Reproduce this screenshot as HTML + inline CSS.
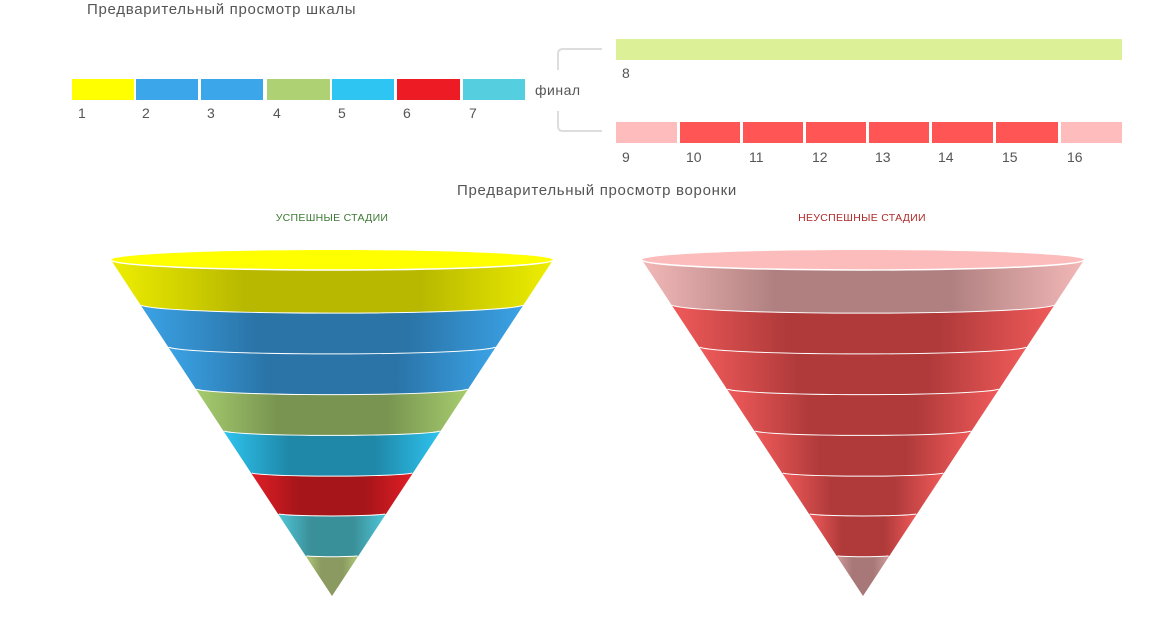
<!DOCTYPE html>
<html><head><meta charset="utf-8"><style>
html,body{margin:0;padding:0;background:#fff;width:1151px;height:636px;overflow:hidden}
svg{display:block;font-family:"Liberation Sans","DejaVu Sans",sans-serif}
</style></head><body>
<svg id="s" width="1151" height="636" viewBox="0 0 1151 636" xmlns="http://www.w3.org/2000/svg">
<defs id="d"></defs>
<text x="87" y="14" font-size="15" letter-spacing="0.7" fill="#555">Предварительный просмотр шкалы</text>
<g id="scale"></g>
<text x="535" y="95" font-size="14" letter-spacing="0.5" fill="#555">финал</text>
<path d="M602 49 H563 Q558 49 558 54 V70 M558 111 V126 Q558 131 563 131 H602" fill="none" stroke="#ddd" stroke-width="2"/>
<rect x="616" y="39" width="506" height="21" fill="#dcf197"/>
<text x="622" y="78" font-size="14" fill="#555">8</text>
<text x="597" y="195" font-size="15" letter-spacing="0.7" fill="#555" text-anchor="middle">Предварительный просмотр воронки</text>
<text x="332" y="221" font-size="10.5" letter-spacing="0.3" fill="#3d7a34" text-anchor="middle">УСПЕШНЫЕ СТАДИИ</text>
<text x="862" y="221" font-size="10.5" letter-spacing="0.3" fill="#b02a2a" text-anchor="middle">НЕУСПЕШНЫЕ СТАДИИ</text>
<g id="f"></g>
</svg>
<script>
var s="",defs="";
var top1=[[72,134,"#ffff00"],[136,198,"#3ba7ea"],[201,263,"#3ba7ea"],[267,330,"#aed273"],[332,394,"#2fc5f3"],[397,460,"#ed1c24"],[463,525,"#55cfe0"]];
top1.forEach(function(r,i){s+='<rect x="'+r[0]+'" y="79" width="'+(r[1]-r[0])+'" height="21" fill="'+r[2]+'"/><text x="'+(r[0]+6)+'" y="118" font-size="14" fill="#555">'+(i+1)+'</text>';});
var bot=[[616,677,"#ffbcbc"],[680,740,"#ff5555"],[743,803,"#ff5555"],[806,866,"#ff5555"],[869,929,"#ff5555"],[932,993,"#ff5555"],[996,1058,"#ff5555"],[1061,1122,"#ffbcbc"]];
bot.forEach(function(r,i){s+='<rect x="'+r[0]+'" y="122" width="'+(r[1]-r[0])+'" height="21" fill="'+r[2]+'"/><text x="'+(r[0]+6)+'" y="162" font-size="14" fill="#555">'+(i+9)+'</text>';});
document.getElementById("scale").innerHTML=s;
var ys=[260,305,347,389,431,473,514,556,596];
function funnel(cx,cols,cap,id){
 var out="",R=221,RY=10,apex=596;
 function w(y){return R*(apex-y)/(apex-260);}
 for(var i=0;i<8;i++){
  var y0=ys[i],y1=ys[i+1],w0=w(y0),w1=Math.max(w(y1),0.01),r0=RY*w0/R,r1=RY*w1/R;
  var g=id+i;
  defs+='<linearGradient id="'+g+'" x1="0" x2="1" y1="0" y2="0"><stop offset="0" stop-color="'+cols[i][0]+'"/><stop offset="0.3" stop-color="'+cols[i][1]+'"/><stop offset="0.7" stop-color="'+cols[i][1]+'"/><stop offset="1" stop-color="'+cols[i][0]+'"/></linearGradient>';
  var d="M"+(cx-w0)+" "+y0+" A"+w0+" "+r0+" 0 0 0 "+(cx+w0)+" "+y0+" L"+(cx+w1)+" "+y1+(i<7?" A"+w1+" "+r1+" 0 0 1 "+(cx-w1)+" "+y1:" L"+(cx-w1)+" "+y1)+" Z";
  out+='<path d="'+d+'" fill="url(#'+g+')"/>';
  if(i==0) out+='<ellipse cx="'+cx+'" cy="'+y0+'" rx="'+w0+'" ry="'+r0+'" fill="'+cap+'"/>';
  if(i<7) out+='<path d="M'+(cx-w1)+' '+y1+' A'+w1+' '+r1+' 0 0 0 '+(cx+w1)+' '+y1+'" fill="none" stroke="#fff" stroke-width="2"/>';
 }
 out+='<path d="M'+(cx-R)+' 260 A'+R+' '+RY+' 0 0 0 '+(cx+R)+' 260" fill="none" stroke="#fff" stroke-width="1.5"/>';
 return out;
}
var L=[["#eeee00","#b8b800"],["#3ba3e6","#2a74a8"],["#3ba3e6","#2a74a8"],["#a6cc6e","#789450"],["#2ec3ef","#1f88a8"],["#e01e26","#a51519"],["#50c6d8","#3a9098"],["#b0c878","#8a9a60"]];
var Rc=[["#f3b8b8","#b08080"],["#f05a5a","#b03a3a"],["#f05a5a","#b03a3a"],["#f05a5a","#b03a3a"],["#f05a5a","#b03a3a"],["#f05a5a","#b03a3a"],["#f05a5a","#b03a3a"],["#d09a9a","#a87878"]];
var f=funnel(332,L,"#ffff00","gl")+funnel(863,Rc,"#fdbcbc","gr");
document.getElementById("d").innerHTML=defs;
document.getElementById("f").innerHTML=f;
</script>
</body></html>
